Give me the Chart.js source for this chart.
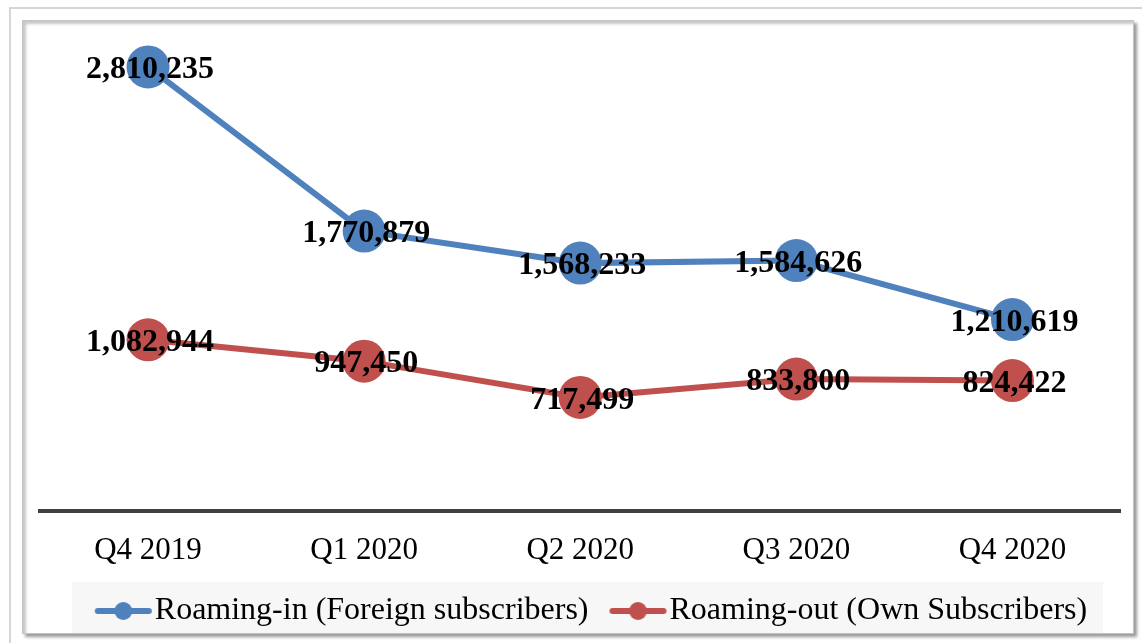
<!DOCTYPE html>
<html>
<head>
<meta charset="utf-8">
<script src="https://cdn.jsdelivr.net/npm/chart.js@4.4.0/dist/chart.umd.min.js"></script>
<style>
  html, body { margin: 0; padding: 0; background: #fff; }
  body { width: 1142px; height: 643px; position: relative; overflow: hidden; }
  .outer { position: absolute; left: 9px; top: 7px; width: 1200px; height: 700px; border: 2px solid #d6d6d6; }
  .inner { position: absolute; left: 22px; top: 20px; width: 1110px; height: 612px; border: 1px solid #c4c4c4;
           box-shadow: inset 4px 4px 3px -1px #c8c8c8, 3px 3px 3px #9a9a9a; background: #fff; }
  #wrap { position: absolute; left: 0; top: 0; width: 1142px; height: 643px; }
</style>
</head>
<body>
<div class="outer"></div>
<div class="inner"></div>
<div id="wrap"><canvas id="roamingChart" width="1142" height="643"></canvas></div>
<script>
  const quarters = ["Q4 2019", "Q1 2020", "Q2 2020", "Q3 2020", "Q4 2020"];
  const roamingIn = [2810235, 1770879, 1568233, 1584626, 1210619];
  const roamingOut = [1082944, 947450, 717499, 833800, 824422];
  const seriesNames = ["Roaming-in (Foreign subscribers)", "Roaming-out (Own Subscribers)"];
  const seriesColors = ["#4F81BD", "#C0504D"];

  const serif = "'Times New Roman', 'Liberation Serif', serif";

  // line + dot icons for the legend (left part of the canvas left empty as spacing)
  function makeIcon(color){
    const c = document.createElement("canvas");
    c.width = 92; c.height = 20;
    const g = c.getContext("2d");
    g.strokeStyle = color;
    g.lineWidth = 6;
    g.lineCap = "round";
    g.beginPath(); g.moveTo(35, 10); g.lineTo(86, 10); g.stroke();
    g.fillStyle = color;
    g.beginPath(); g.arc(60.5, 10, 9, 0, Math.PI * 2); g.fill();
    return c;
  }
  const legendIcons = seriesColors.map(makeIcon);

  // grey panel behind the legend
  const legendPanel = {
    id: "legendPanel",
    beforeDraw(chart){
      const lg = chart.legend;
      if (!lg || !lg.legendHitBoxes || !lg.legendHitBoxes.length) return;
      const boxes = lg.legendHitBoxes;
      const left = Math.min(...boxes.map(b => b.left)) - 7;
      const right = Math.max(...boxes.map(b => b.left + b.width)) + 16;
      const ctx = chart.ctx;
      ctx.save();
      ctx.fillStyle = "#f7f7f7";
      ctx.fillRect(left, 582, right - left, 51);
      ctx.restore();
    }
  };

  // value labels drawn over each point
  const valueLabels = {
    id: "valueLabels",
    afterDatasetsDraw(chart){
      const ctx = chart.ctx;
      ctx.save();
      ctx.font = "bold 32px " + serif;
      ctx.fillStyle = "#000";
      ctx.textAlign = "center";
      ctx.textBaseline = "middle";
      chart.data.datasets.forEach((ds, i) => {
        const meta = chart.getDatasetMeta(i);
        meta.data.forEach((pt, j) => {
          ctx.fillText(ds.data[j].toLocaleString("en-US"), pt.x + 2, pt.y + 3);
        });
      });
      ctx.restore();
    }
  };

  new Chart(document.getElementById("roamingChart"), {
    type: "line",
    data: {
      labels: quarters,
      datasets: [
        {
          label: seriesNames[0],
          data: roamingIn,
          borderColor: seriesColors[0],
          backgroundColor: seriesColors[0],
          pointBackgroundColor: seriesColors[0],
          borderWidth: 6,
          pointRadius: 21.5,
          pointBorderWidth: 0,
          tension: 0,
          clip: false
        },
        {
          label: seriesNames[1],
          data: roamingOut,
          borderColor: seriesColors[1],
          backgroundColor: seriesColors[1],
          pointBackgroundColor: seriesColors[1],
          borderWidth: 6,
          pointRadius: 21.5,
          pointBorderWidth: 0,
          tension: 0,
          clip: false
        }
      ]
    },
    options: {
      responsive: false,
      animation: false,
      devicePixelRatio: 1,
      layout: { padding: { left: 40, right: 16, top: 37, bottom: 6 } },
      scales: {
        x: {
          offset: true,
          grid: { display: false, drawTicks: false },
          border: { display: true, color: "#404040", width: 4 },
          ticks: { color: "#000", font: { family: serif, size: 31 }, padding: 21 }
        },
        y: { display: false, min: 0, max: 3000000 }
      },
      plugins: {
        tooltip: { enabled: false },
        legend: {
          position: "bottom",
          labels: {
            usePointStyle: true,
            pointStyleWidth: 60,
            padding: 5,
            color: "#000",
            font: { family: serif, size: 32 },
            generateLabels: chart => chart.data.datasets.map((ds, i) => ({
              text: ds.label,
              pointStyle: legendIcons[i],
              fillStyle: ds.borderColor,
              strokeStyle: ds.borderColor,
              lineWidth: 0,
              hidden: false,
              datasetIndex: i,
              fontColor: "#000"
            }))
          }
        }
      }
    },
    plugins: [legendPanel, valueLabels]
  });
</script>
</body>
</html>
